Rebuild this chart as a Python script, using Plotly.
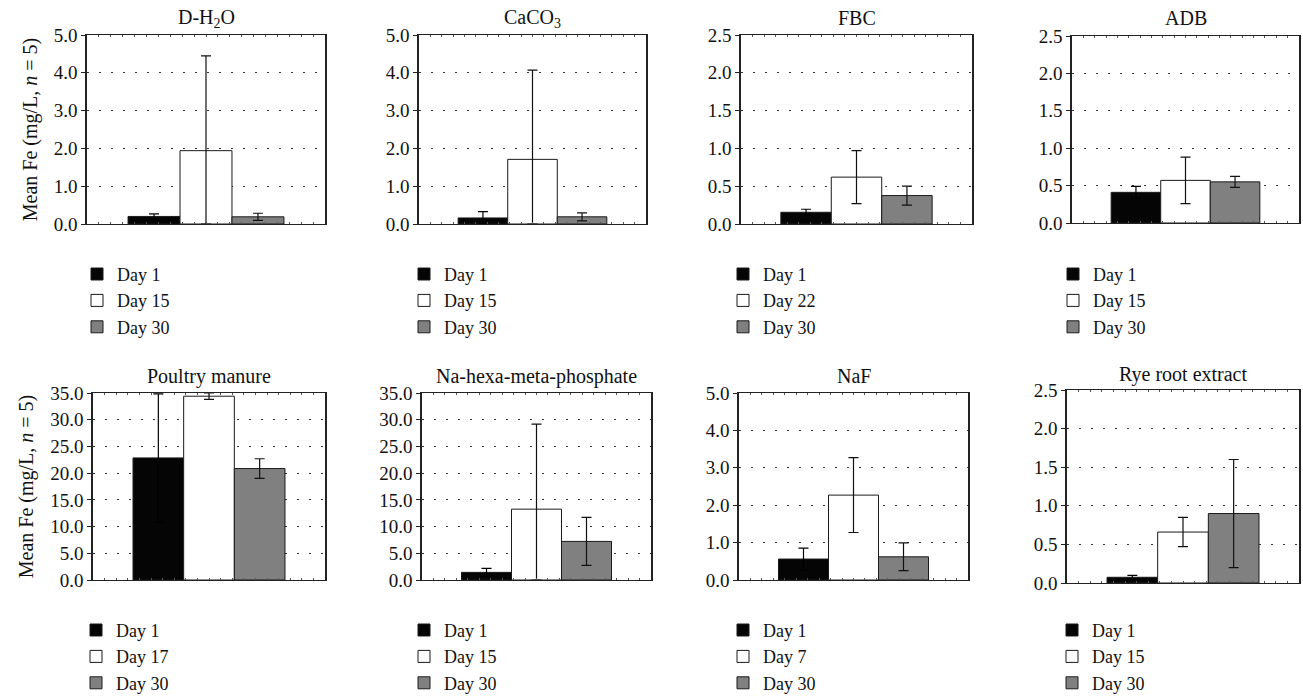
import plotly.graph_objects as go

W, H = 1303, 697

titles = ["D-H<sub>2</sub>O", "CaCO<sub>3</sub>", "FBC", "ADB",
          "Poultry manure", "Na-hexa-meta-phosphate", "NaF", "Rye root extract"]
mid_days = ["Day 15", "Day 15", "Day 22", "Day 15", "Day 17", "Day 15", "Day 7", "Day 15"]

day1_mean = [0.20, 0.16, 0.155, 0.41, 22.85, 1.43, 0.56, 0.074]
day1_sd = [0.07, 0.17, 0.04, 0.08, 12.0, 0.75, 0.29, 0.026]
mid_mean = [1.94, 1.71, 0.62, 0.57, 34.4, 13.26, 2.27, 0.66]
mid_sd = [2.51, 2.36, 0.35, 0.31, 0.6, 15.9, 1.0, 0.19]
day30_mean = [0.19, 0.19, 0.376, 0.55, 20.86, 7.22, 0.62, 0.90]
day30_sd = [0.095, 0.105, 0.126, 0.073, 1.83, 4.5, 0.37, 0.70]

y_max = [5, 5, 2.5, 2.5, 35, 35, 5, 2.5]
y_step = [1, 1, 0.5, 0.5, 5, 5, 1, 0.5]

# panel geometry in pixels (left, right, top, bottom)
boxes = [(87, 325, 35, 224), (419, 646, 35, 224), (741, 972, 35, 224), (1072, 1299, 36, 223),
         (93, 325, 393, 580), (422, 651, 393, 580), (739, 968, 393, 580), (1067, 1299, 390, 583)]
# legend left edge (px) and first-item centre (px)
legend_pos = [(77, 274), (404, 274), (723, 274), (1053, 274),
              (76, 630), (404, 630), (723, 630), (1052, 630)]
title_y = [18, 18, 18, 18, 376, 376, 376, 375]

FONT = "Liberation Serif"
LFS = 18
colors = ["#050505", "#ffffff", "#808080"]
err_colors = ["#000000", "#111111", "#111111"]

fig = go.Figure()
for i in range(8):
    ax = "" if i == 0 else str(i + 1)
    lg = "legend" if i == 0 else f"legend{i + 1}"
    names = ["Day 1", mid_days[i], "Day 30"]
    means = [day1_mean[i], mid_mean[i], day30_mean[i]]
    sds = [day1_sd[i], mid_sd[i], day30_sd[i]]
    for j in range(3):
        fig.add_trace(go.Bar(
            x=[0], y=[means[j]], name=names[j],
            marker=dict(color=colors[j], line=dict(color="#1a1a1a", width=1)),
            error_y=dict(type="data", array=[sds[j]], arrayminus=[min(sds[j], means[j])],
                         color=err_colors[j], thickness=1.2, width=5),
            xaxis="x" + ax, yaxis="y" + ax, legend=lg, legendgroup=f"g{i}_{j}",
        ))
    l, r, t, b = boxes[i]
    item_h = LFS * 1.3 + 3
    fig.update_layout(**{
        "xaxis" + ax: dict(domain=[l / W, r / W], range=[-0.5, 0.5], showticklabels=False,
                           showline=True, linecolor="#222", linewidth=1.3, mirror="ticks",
                           ticks="inside", ticklen=2, tickcolor="#555", dtick=0.05, tick0=-0.5,
                           showgrid=False, zeroline=False, anchor="y" + ax, fixedrange=True),
        "yaxis" + ax: dict(domain=[1 - b / H, 1 - t / H], range=[0, y_max[i]], dtick=y_step[i],
                           tickformat=".1f", showline=True, linecolor="#222", linewidth=1.6,
                           mirror=True, ticks="outside", ticklen=4, tickcolor="#222",
                           showgrid=True, gridcolor="#333", griddash="1.5px,10.5px", gridwidth=1.3,
                           zeroline=False, anchor="x" + ax, fixedrange=True,
                           tickfont=dict(family=FONT, size=19, color="#111")),
        lg: dict(x=legend_pos[i][0] / W, y=1 - (legend_pos[i][1] - 5 - item_h / 2) / H,
                 xanchor="left", yanchor="top", bgcolor="rgba(0,0,0,0)",
                 font=dict(family=FONT, size=LFS, color="#111"), traceorder="grouped",
                 tracegroupgap=0),
    })
    fig.add_annotation(text=titles[i], x=(l + r) / 2 / W, y=1 - title_y[i] / H,
                       xref="paper", yref="paper", xanchor="center", yanchor="middle",
                       showarrow=False, font=dict(family=FONT, size=20, color="#111"))

for ax in ["yaxis", "yaxis5"]:
    fig.layout[ax].title = dict(text="Mean Fe (mg/L, <i>n</i> = 5)", standoff=11,
                                font=dict(family=FONT, size=20, color="#111"))

fig.update_layout(width=W, height=H, margin=dict(l=0, r=0, t=0, b=0, autoexpand=False),
                  paper_bgcolor="white", plot_bgcolor="white",
                  barmode="group", bargap=0.345, bargroupgap=0,
                  font=dict(family=FONT, size=19, color="#111"), showlegend=True)

fig.write_html("out.html", config={"displayModeBar": False},
               post_script="document.body.style.margin='0';document.body.style.overflow='hidden';")
